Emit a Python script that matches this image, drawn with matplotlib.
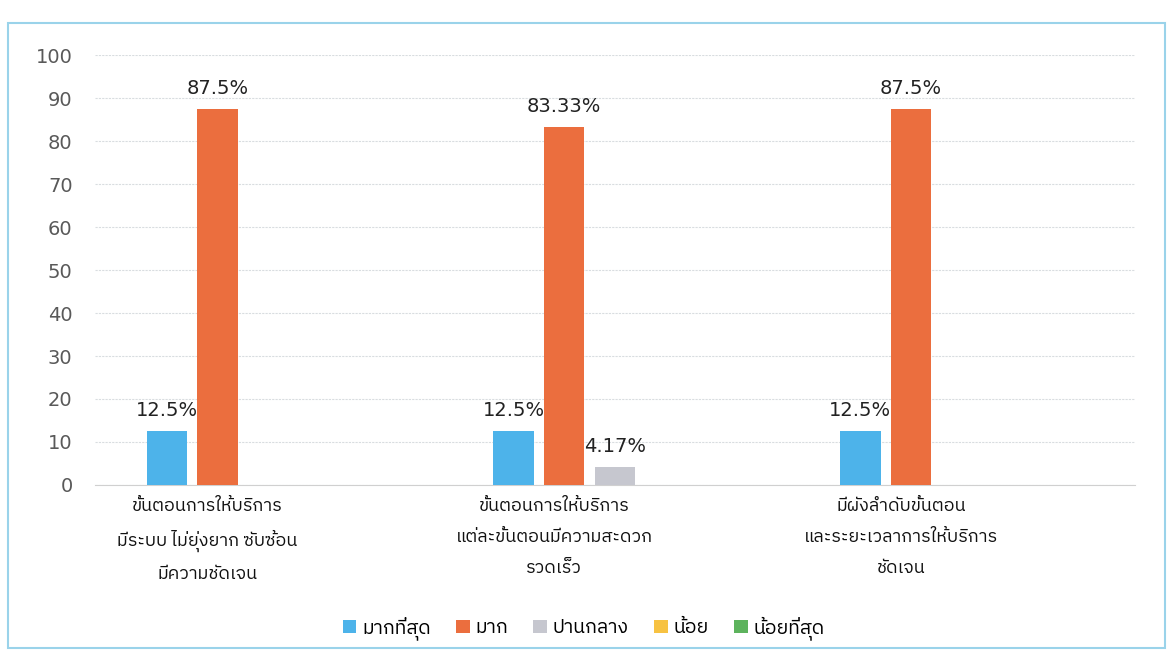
import matplotlib
matplotlib.use("Agg")
import matplotlib.pyplot as plt
from matplotlib import font_manager
from matplotlib.patches import Rectangle
import numpy as np

categories = [
    "ขั้นตอนการให้บริการ\nมีระบบ ไม่ยุ่งยาก ซับซ้อน\nมีความชัดเจน",
    "ขั้นตอนการให้บริการ\nแต่ละขั้นตอนมีความสะดวก\nรวดเร็ว",
    "มีผังลำดับขั้นตอน\nและระยะเวลาการให้บริการ\nชัดเจน",
]
series_names = ["มากที่สุด", "มาก", "ปานกลาง", "น้อย", "น้อยที่สุด"]
values = {
    "มากที่สุด": [12.5, 12.5, 12.5],
    "มาก": [87.5, 83.33, 87.5],
    "ปานกลาง": [0, 4.17, 0],
    "น้อย": [0, 0, 0],
    "น้อยที่สุด": [0, 0, 0],
}
colors = ["#4DB3EA", "#EB6E3E", "#C6C7CF", "#F7C242", "#5DB35D"]
yticks = list(range(0, 101, 10))

# pick whatever Thai-capable font is installed
names = sorted({f.name for f in font_manager.fontManager.ttflist})
thai = [n for n in names if "Thai" in n or n in ("Loma", "Garuda", "Kinnari", "Norasi",
                                                  "Tlwg Typo", "Sawasdee", "Umpush", "Waree",
                                                  "Laksaman", "TH Sarabun New")]
plt.rcParams["font.family"] = thai + ["DejaVu Sans"]

fig = plt.figure(figsize=(11.7, 6.5), dpi=100)
fig.patches.append(Rectangle((0.007, 0.003), 0.989, 0.962, transform=fig.transFigure,
                             fill=False, edgecolor="#9AD3EA", linewidth=1.5))
ax = fig.add_axes([0.081, 0.254, 0.889, 0.661])

x = np.arange(len(categories))
w = 0.117
step = 0.146
for i, name in enumerate(series_names):
    vals = values[name]
    pos = x + (i - 2) * step
    bars = ax.bar(pos, vals, width=w, color=colors[i], label=name, zorder=3)
    for b, v in zip(bars, vals):
        if v > 0:
            ax.text(b.get_x() + b.get_width() / 2, v + 2.5, f"{v:g}%",
                    ha="center", va="bottom", fontsize=14, color="#222222",
                    family=["DejaVu Sans"])

ax.set_xlim(-0.5, 2.5)
ax.set_ylim(0, 100)
ax.set_yticks(yticks)
ax.tick_params(axis="y", length=0, labelsize=14, labelcolor="#595959", pad=16)
ax.set_yticklabels([str(t) for t in yticks], family=["DejaVu Sans"])
ax.grid(axis="y", color="#D9DDE0", linewidth=0.8, linestyle=(0, (2, 1)), zorder=0)
for s in ["top", "right", "left"]:
    ax.spines[s].set_visible(False)
ax.spines["bottom"].set_color("#D0D0D0")

ax.set_xticks(x - 0.175)
ax.set_xticklabels(categories, fontsize=13, color="#111111", linespacing=1.9)
ax.tick_params(axis="x", length=0, pad=9)

ax.legend(loc="upper center", bbox_to_anchor=(0.47, -0.265), ncol=5, frameon=False,
          fontsize=14, handlelength=0.7, handleheight=0.7, handletextpad=0.3,
          columnspacing=1.3)

fig.savefig("out.png", dpi=100)
